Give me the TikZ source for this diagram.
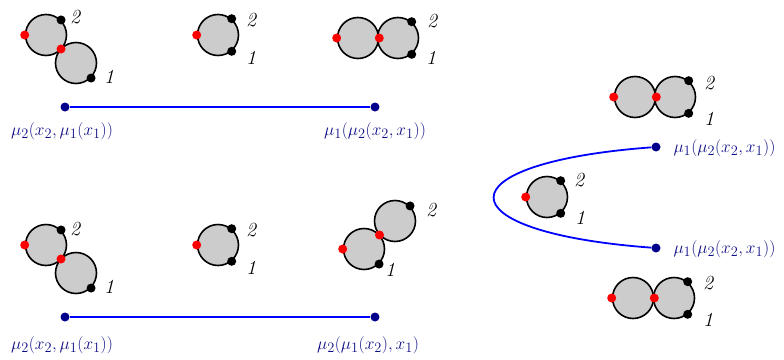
\documentclass[tikz,border=0pt]{standalone}
\usepackage{amsmath}
\usetikzlibrary{positioning, calc}
\definecolor{diskgray}{RGB}{204,204,204}
\definecolor{dotnavy}{RGB}{0,0,140}
\definecolor{labnavy}{RGB}{15,15,135}

\begin{document}
\begin{tikzpicture}[x=1pt, y=-1pt,
  disk/.style={circle, draw, line width=1.6pt, fill=diskgray, minimum size=41pt, inner sep=0pt},
  rdot/.style={circle, fill=red, minimum size=9pt, inner sep=0pt},
  kdot/.style={circle, fill=black, minimum size=9pt, inner sep=0pt},
  edot/.style={circle, fill=dotnavy, minimum size=9pt, inner sep=0pt},
  num/.style={font=\fontsize{20}{24}\selectfont\itshape},
  mulab/.style={text=labnavy, font=\fontsize{19}{23}\selectfont},
  bluepath/.style={blue, line width=1.8pt}]
  \useasboundingbox (0,0) rectangle (784,359);

  % oben links
  \node[disk] (tla) at (46,35) {};
  \node[disk] (tlb) at (76,63) {};
  \node[rdot] (tlr1) at (tla.west) {};
  \node[rdot] (tlr2) at ($(tla)!0.5!(tlb)$) {};
  \node[kdot] (tlk2) at (tla.45) {};
  \node[kdot] (tlk1) at (tlb.-45) {};
  \node[num] (tln2) at (75,17) {2};
  \node[num] (tln1) at (109,77) {1};

  % oben Mitte
  \node[disk] (tma) at (218,35) {};
  \node[rdot] (tmr) at (tma.west) {};
  \node[kdot] (tmk2) at (tma.50) {};
  \node[kdot] (tmk1) at (tma.-50) {};
  \node[num] (tmn2) at (251,20) {2};
  \node[num] (tmn1) at (251,58) {1};

  % oben rechts
  \node[disk] (tra) at (358,38) {};
  \node[disk] (trb) at (398,38) {};
  \node[rdot] (trr1) at (tra.west) {};
  \node[rdot] (trr2) at (tra.east) {};
  \node[kdot] (trk2) at (trb.50) {};
  \node[kdot] (trk1) at (trb.-50) {};
  \node[num] (trn2) at (432,21) {2};
  \node[num] (trn1) at (431,58) {1};

  % Linie oben
  \node[edot] (t1) at (65,107) {};
  \node[edot] (t2) at (375,107) {};
  \draw[bluepath] (t1) -- (t2);
  \node[mulab] (t1l) at (62,131) {$\mu_2(x_2,\mu_1(x_1))$};
  \node[mulab] (t2l) at (375,131) {$\mu_1(\mu_2(x_2,x_1))$};

  % unten links
  \node[disk] (bla) at (46,245) {};
  \node[disk] (blb) at (76,273) {};
  \node[rdot] (blr1) at (bla.west) {};
  \node[rdot] (blr2) at ($(bla)!0.5!(blb)$) {};
  \node[kdot] (blk2) at (bla.45) {};
  \node[kdot] (blk1) at (blb.-45) {};
  \node[num] (bln2) at (75,229) {2};
  \node[num] (bln1) at (109,287) {1};

  % unten Mitte
  \node[disk] (bma) at (218,245) {};
  \node[rdot] (bmr) at (bma.west) {};
  \node[kdot] (bmk2) at (bma.50) {};
  \node[kdot] (bmk1) at (bma.-50) {};
  \node[num] (bmn2) at (251,230) {2};
  \node[num] (bmn1) at (251,268) {1};

  % unten rechts
  \node[disk] (bra) at (364,249) {};
  \node[disk] (brb) at (395,221) {};
  \node[rdot] (brr1) at (bra.west) {};
  \node[rdot] (brr2) at ($(bra)!0.5!(brb)$) {};
  \node[kdot] (brk1) at (bra.-45) {};
  \node[kdot] (brk2) at (brb.45) {};
  \node[num] (brn2) at (431,210) {2};
  \node[num] (brn1) at (390,270) {1};

  % Linie unten
  \node[edot] (b1) at (65,317) {};
  \node[edot] (b2) at (375,317) {};
  \draw[bluepath] (b1) -- (b2);
  \node[mulab] (b1l) at (62,345) {$\mu_2(x_2,\mu_1(x_1))$};
  \node[mulab] (b2l) at (368,345) {$\mu_2(\mu_1(x_2),x_1)$};

  % rechts: Schleife
  \node[disk] (rta) at (635,97) {};
  \node[disk] (rtb) at (675,97) {};
  \node[rdot] (rtr1) at (rta.west) {};
  \node[rdot] (rtr2) at (rta.east) {};
  \node[kdot] (rtk2) at (rtb.50) {};
  \node[kdot] (rtk1) at (rtb.-50) {};
  \node[num] (rtn2) at (709,83) {2};
  \node[num] (rtn1) at (709,119) {1};

  \node[disk] (rma) at (547,197) {};
  \node[rdot] (rmr) at (rma.west) {};
  \node[kdot] (rmk2) at (rma.50) {};
  \node[kdot] (rmk1) at (rma.-50) {};
  \node[num] (rmn2) at (579,180) {2};
  \node[num] (rmn1) at (580,218) {1};

  \node[disk] (rba) at (633,298) {};
  \node[disk] (rbb) at (674,298) {};
  \node[rdot] (rbr1) at (rba.west) {};
  \node[rdot] (rbr2) at (rba.east) {};
  \node[kdot] (rbk2) at (rbb.50) {};
  \node[kdot] (rbk1) at (rbb.-50) {};
  \node[num] (rbn2) at (708,283) {2};
  \node[num] (rbn1) at (708,320) {1};

  \node[edot] (r1) at (656,147) {};
  \node[edot] (r2) at (656,248) {};
  \draw[bluepath] (r1) .. controls (441,163) and (441,232) .. (r2);
  \node[mulab, anchor=west] (r1l) at (670,148) {$\mu_1(\mu_2(x_2,x_1))$};
  \node[mulab, anchor=west] (r2l) at (670,249) {$\mu_1(\mu_2(x_2,x_1))$};
\end{tikzpicture}
\end{document}
